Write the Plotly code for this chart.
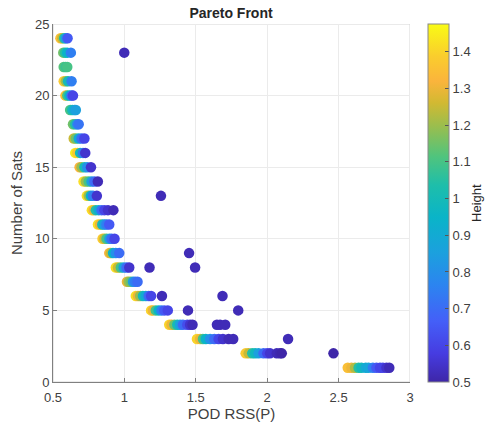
import plotly.graph_objects as go

# ---- data ----
# each row: number of satellites, POD RSS(P) values, heights
num_sats_rows = [24, 23, 22, 21, 20, 19, 18, 17, 16, 15, 14, 13, 12, 11, 10, 9, 8, 7, 6, 5, 4, 3, 2, 1]

pod_rss_rows = [
    [0.552, 0.565, 0.578, 0.590, 0.602],
    [0.572, 0.585, 0.600, 0.625, 0.999],
    [0.575, 0.588, 0.600],
    [0.575, 0.590, 0.605, 0.630],
    [0.587, 0.600, 0.615, 0.630, 0.640],
    [0.620, 0.635, 0.650, 0.660],
    [0.640, 0.655, 0.670, 0.680],
    [0.645, 0.660, 0.680, 0.700, 0.720],
    [0.656, 0.670, 0.690, 0.710, 0.726],
    [0.686, 0.700, 0.720, 0.740, 0.766],
    [0.714, 0.730, 0.750, 0.770, 0.790, 0.814],
    [0.737, 0.750, 0.765, 0.780, 0.807, 1.256],
    [0.772, 0.785, 0.800, 0.820, 0.840, 0.860, 0.885, 0.923],
    [0.815, 0.830, 0.845, 0.860, 0.875, 0.894],
    [0.847, 0.860, 0.875, 0.895, 0.910, 0.931],
    [0.894, 0.905, 0.920, 0.940, 0.964, 1.453],
    [0.940, 0.955, 0.975, 0.995, 1.015, 1.034, 1.176, 1.495],
    [1.018, 1.030, 1.045, 1.060, 1.075, 1.092],
    [1.080, 1.095, 1.110, 1.130, 1.150, 1.170, 1.187, 1.263, 1.687],
    [1.187, 1.200, 1.220, 1.240, 1.260, 1.280, 1.304, 1.445, 1.797],
    [1.314, 1.330, 1.350, 1.370, 1.390, 1.410, 1.440, 1.460, 1.477, 1.648, 1.670, 1.706],
    [1.508, 1.530, 1.550, 1.570, 1.600, 1.630, 1.660, 1.690, 1.730, 1.762, 2.146],
    [1.849, 1.870, 1.895, 1.916, 1.940, 1.974, 2.000, 2.020, 2.067, 2.090, 2.102, 2.464],
    [2.564, 2.590, 2.615, 2.640, 2.660, 2.690, 2.710, 2.740, 2.765, 2.790, 2.810, 2.835, 2.855],
]

height_rows = [
    [1.35, 1.25, 1.05, 0.85, 0.65],
    [1.15, 1.05, 0.95, 0.75, 0.52],
    [1.12, 1.08, 1.10],
    [1.38, 1.20, 1.00, 0.75],
    [1.35, 1.10, 0.95, 0.70, 0.60],
    [1.10, 1.00, 0.90, 0.85],
    [1.15, 1.05, 0.80, 0.72],
    [1.25, 1.15, 0.90, 0.70, 0.60],
    [1.45, 1.38, 1.00, 0.75, 0.55],
    [1.32, 1.20, 1.00, 0.80, 0.55],
    [1.42, 1.20, 1.10, 0.85, 0.70, 0.52],
    [1.42, 1.20, 0.95, 0.75, 0.55, 0.52],
    [1.42, 1.30, 1.05, 0.90, 0.70, 0.60, 0.55, 0.52],
    [1.42, 1.30, 1.00, 0.85, 0.75, 0.65],
    [1.38, 1.25, 1.10, 0.85, 0.70, 0.60],
    [1.32, 1.25, 0.95, 0.80, 0.70, 0.52],
    [1.42, 1.25, 1.10, 0.85, 0.70, 0.55, 0.52, 0.52],
    [1.30, 1.20, 1.15, 0.85, 0.75, 0.70],
    [1.42, 1.30, 1.20, 1.00, 0.90, 0.70, 0.60, 0.52, 0.52],
    [1.40, 1.30, 1.10, 0.95, 0.75, 0.65, 0.60, 0.52, 0.52],
    [1.40, 1.30, 1.15, 1.00, 0.85, 0.70, 0.62, 0.55, 0.52, 0.52, 0.52, 0.52],
    [1.40, 1.30, 1.10, 0.95, 0.80, 0.70, 0.60, 0.55, 0.52, 0.52, 0.52],
    [1.38, 1.25, 1.05, 0.98, 0.85, 0.70, 0.60, 0.55, 0.52, 0.51, 0.50, 0.50],
    [1.35, 1.30, 1.22, 1.05, 0.98, 0.90, 0.88, 0.75, 0.65, 0.60, 0.60, 0.55, 0.52],
]

x_ticks = [0.5, 1, 1.5, 2, 2.5, 3]
y_ticks = [0, 5, 10, 15, 20, 25]
c_ticks = [0.5, 0.6, 0.7, 0.8, 0.9, 1.0, 1.1, 1.2, 1.3, 1.4]

pod_rss, num_sats, height = [], [], []
for n, xs, hs in zip(num_sats_rows, pod_rss_rows, height_rows):
    for xv, hv in zip(xs, hs):
        pod_rss.append(xv)
        num_sats.append(n)
        height.append(hv)

parula = [
    [0.00, "rgb(62,38,168)"],
    [0.08, "rgb(70,60,225)"],
    [0.17, "rgb(68,95,248)"],
    [0.27, "rgb(44,132,240)"],
    [0.36, "rgb(28,160,222)"],
    [0.46, "rgb(10,180,200)"],
    [0.55, "rgb(30,190,170)"],
    [0.63, "rgb(80,196,125)"],
    [0.71, "rgb(150,190,80)"],
    [0.78, "rgb(210,185,50)"],
    [0.84, "rgb(250,180,60)"],
    [0.91, "rgb(250,205,45)"],
    [1.00, "rgb(249,251,21)"],
]

L, R, T, B = 52.5, 81, 23.5, 41.5
W, H = 491, 424
pw = W - L - R

fig = go.Figure()
fig.add_trace(go.Scatter(
    x=pod_rss, y=num_sats, mode="markers",
    marker=dict(
        size=10.5, color=height, colorscale=parula, cmin=0.5, cmax=1.476,
        line=dict(width=0), opacity=1,
        colorbar=dict(
            tickvals=c_ticks, ticks="inside", ticklen=4, tickcolor="#555",
            tickfont=dict(size=13, color="#404040"),
            thickness=21, thicknessmode="pixels",
            len=1.0, lenmode="fraction", y=0.5, yanchor="middle",
            x=(428.3 - L) / pw, xanchor="left", xpad=0, ypad=0,
            outlinewidth=1, outlinecolor="#888",
        ),
    ),
    hoverinfo="skip", showlegend=False,
))

fig.add_shape(type="rect", xref="x", yref="y", x0=0.5, x1=3, y0=0, y1=25,
              line=dict(color="#d6d6d6", width=1), layer="below")

fig.add_annotation(text="Height", xref="paper", yref="paper",
                   x=(476 - L) / pw, y=0.5, xanchor="center", yanchor="middle",
                   textangle=-90, showarrow=False,
                   font=dict(size=13, color="#262626"))

fig.update_layout(
    width=W, height=H,
    margin=dict(l=L, r=R, t=T, b=B, autoexpand=False),
    paper_bgcolor="white", plot_bgcolor="white",
    font=dict(family="Liberation Sans, Arial, sans-serif", color="#404040"),
    title=dict(text="<b>Pareto Front</b>", x=231 / W, xanchor="center",
               y=1 - 13 / H, yanchor="middle", xref="container", yref="container",
               font=dict(size=14, color="#262626")),
)
fig.update_xaxes(
    range=[0.5, 3], tickvals=x_ticks, ticks="inside", ticklen=4, tickcolor="#808080",
    showline=True, linecolor="#808080", linewidth=1, mirror=False,
    showgrid=True, gridcolor="#ebebeb", gridwidth=1, zeroline=False,
    tickfont=dict(size=13, color="#404040"), ticklabelstandoff=3,
    title=dict(text="POD RSS(P)", font=dict(size=15, color="#404040"), standoff=2),
)
fig.update_yaxes(
    range=[0, 25], tickvals=y_ticks, ticks="inside", ticklen=4, tickcolor="#808080",
    showline=True, linecolor="#808080", linewidth=1, mirror=False,
    showgrid=True, gridcolor="#ebebeb", gridwidth=1, zeroline=False,
    tickfont=dict(size=13, color="#404040"),
    title=dict(text="Number of Sats", font=dict(size=15, color="#404040"), standoff=8),
)

fig.write_html("out.html", config={"displayModeBar": False},
               post_script="document.body.style.margin='0';document.body.style.overflow='hidden';")
